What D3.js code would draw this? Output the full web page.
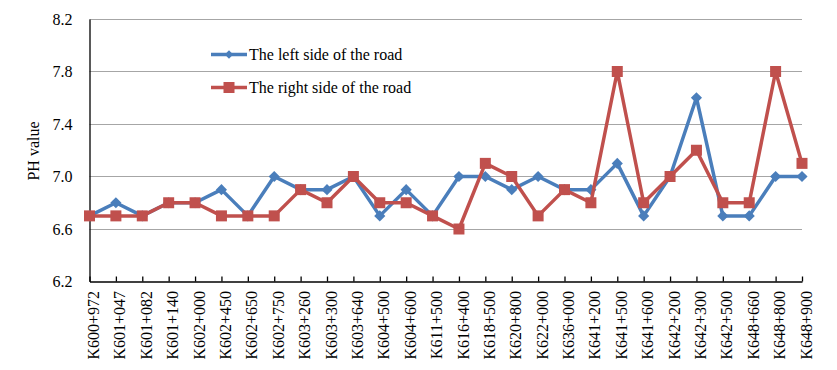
<!DOCTYPE html>
<html>
<head>
    <meta charset="utf-8" />
    <title>PH value</title>
    <style>
        html, body { margin: 0; padding: 0; background: #fff; }
        text { font-family: "Liberation Serif", "Times New Roman", serif; fill: #000; }
    </style>
</head>
<body>
    <svg width="837" height="370"></svg>
    <script src="https://d3js.org/d3.v7.min.js"></script>
    <script>
        var stations = ["K600+972", "K601+047", "K601+082", "K601+140", "K602+000", "K602+450", "K602+650",
            "K602+750", "K603+260", "K603+300", "K603+640", "K604+500", "K604+600", "K611+500",
            "K616+400", "K618+500", "K620+800", "K622+000", "K636+000", "K641+200", "K641+500",
            "K641+600", "K642+200", "K642+300", "K642+500", "K648+660", "K648+800", "K648+900"];

        var leftSide = [6.7, 6.8, 6.7, 6.8, 6.8, 6.9, 6.7, 7.0, 6.9, 6.9, 7.0, 6.7, 6.9, 6.7,
            7.0, 7.0, 6.9, 7.0, 6.9, 6.9, 7.1, 6.7, 7.0, 7.6, 6.7, 6.7, 7.0, 7.0];

        var rightSide = [6.7, 6.7, 6.7, 6.8, 6.8, 6.7, 6.7, 6.7, 6.9, 6.8, 7.0, 6.8, 6.8, 6.7,
            6.6, 7.1, 7.0, 6.7, 6.9, 6.8, 7.8, 6.8, 7.0, 7.2, 6.8, 6.8, 7.8, 7.1];

        var yTicks = [6.2, 6.6, 7.0, 7.4, 7.8, 8.2];

        var series = [
            { name: "The left side of the road", values: leftSide, color: "#4a7ebb", marker: "diamond" },
            { name: "The right side of the road", values: rightSide, color: "#c0504d", marker: "square" }
        ];

        var svg = d3.select("svg");
        var plotLeft = 89.5, plotRight = 802, plotTop = 19, plotBottom = 281.5;

        var x = d3.scalePoint().domain(stations).range([plotLeft, plotRight]).padding(0);
        var y = d3.scaleLinear().domain([6.2, 8.2]).range([plotBottom, plotTop]);

        // gridlines
        svg.append("g")
            .selectAll("line")
            .data(yTicks.slice(1))
            .enter().append("line")
            .attr("x1", plotLeft).attr("x2", plotRight)
            .attr("y1", function (d) { return Math.round(y(d)) + 0.5; })
            .attr("y2", function (d) { return Math.round(y(d)) + 0.5; })
            .attr("stroke", "#a6a6a6")
            .attr("stroke-width", 1.2);

        // y axis
        var yAxis = svg.append("g")
            .attr("transform", "translate(" + plotLeft + ",0)")
            .call(d3.axisLeft(y).tickValues(yTicks).tickSize(0).tickPadding(17).tickFormat(d3.format(".1f")));
        yAxis.select(".domain").attr("stroke", "#000").attr("stroke-width", 1.3);
        yAxis.selectAll("text").attr("font-size", 16).attr("font-family", "Liberation Serif");

        // x axis, ticks pointing inward
        var xAxis = svg.append("g")
            .attr("transform", "translate(0," + plotBottom + ")")
            .call(d3.axisBottom(x).tickSize(-5).tickSizeOuter(0).tickFormat(""));
        xAxis.select(".domain").attr("stroke", "#000").attr("stroke-width", 1.3);
        xAxis.selectAll(".tick line").attr("stroke", "#000").attr("stroke-width", 1.3);

        svg.append("g")
            .selectAll("text")
            .data(stations)
            .enter().append("text")
            .attr("transform", function (d) { return "translate(" + (x(d) + 4) + ",291) rotate(-90)"; })
            .attr("text-anchor", "end")
            .attr("dy", "0.35em")
            .attr("font-size", 16)
            .text(function (d) { return d; });

        // y label
        svg.append("text")
            .attr("transform", "translate(33,151) rotate(-90)")
            .attr("text-anchor", "middle")
            .attr("dy", "0.35em")
            .attr("font-size", 16)
            .text("PH value");

        var line = d3.line()
            .x(function (d, i) { return x(stations[i]); })
            .y(function (d) { return y(d); });

        function drawMarker(g, type, color, size) {
            if (type === "diamond") {
                g.append("path")
                    .attr("d", d3.symbol().type(d3.symbolDiamond2).size(size * size * 0.55)())
                    .attr("fill", color);
            } else {
                g.append("rect")
                    .attr("x", -size / 2).attr("y", -size / 2)
                    .attr("width", size).attr("height", size)
                    .attr("fill", color);
            }
        }

        // blue first, red on top
        series.forEach(function (s) {
            svg.append("path")
                .datum(s.values)
                .attr("d", line)
                .attr("fill", "none")
                .attr("stroke", s.color)
                .attr("stroke-width", 3.5)
                .attr("stroke-linejoin", "round");

            svg.append("g")
                .selectAll("g")
                .data(s.values)
                .enter().append("g")
                .attr("transform", function (d, i) { return "translate(" + x(stations[i]) + "," + y(d) + ")"; })
                .each(function () {
                    drawMarker(d3.select(this), s.marker, s.color, s.marker === "diamond" ? 12 : 11);
                });
        });

        // legend
        var legend = svg.append("g")
            .selectAll("g")
            .data(series)
            .enter().append("g")
            .attr("transform", function (d, i) { return "translate(211," + (54.5 + i * 33) + ")"; });

        legend.append("line")
            .attr("x1", 0).attr("x2", 36)
            .attr("stroke", function (d) { return d.color; })
            .attr("stroke-width", 3.5);

        legend.each(function (d) {
            var g = d3.select(this).append("g").attr("transform", "translate(18,0)");
            drawMarker(g, d.marker, d.color, d.marker === "diamond" ? 9 : 11);
        });

        legend.append("text")
            .attr("x", 38)
            .attr("dy", "0.35em")
            .attr("font-size", 16)
            .text(function (d) { return d.name; });
    </script>
</body>
</html>
